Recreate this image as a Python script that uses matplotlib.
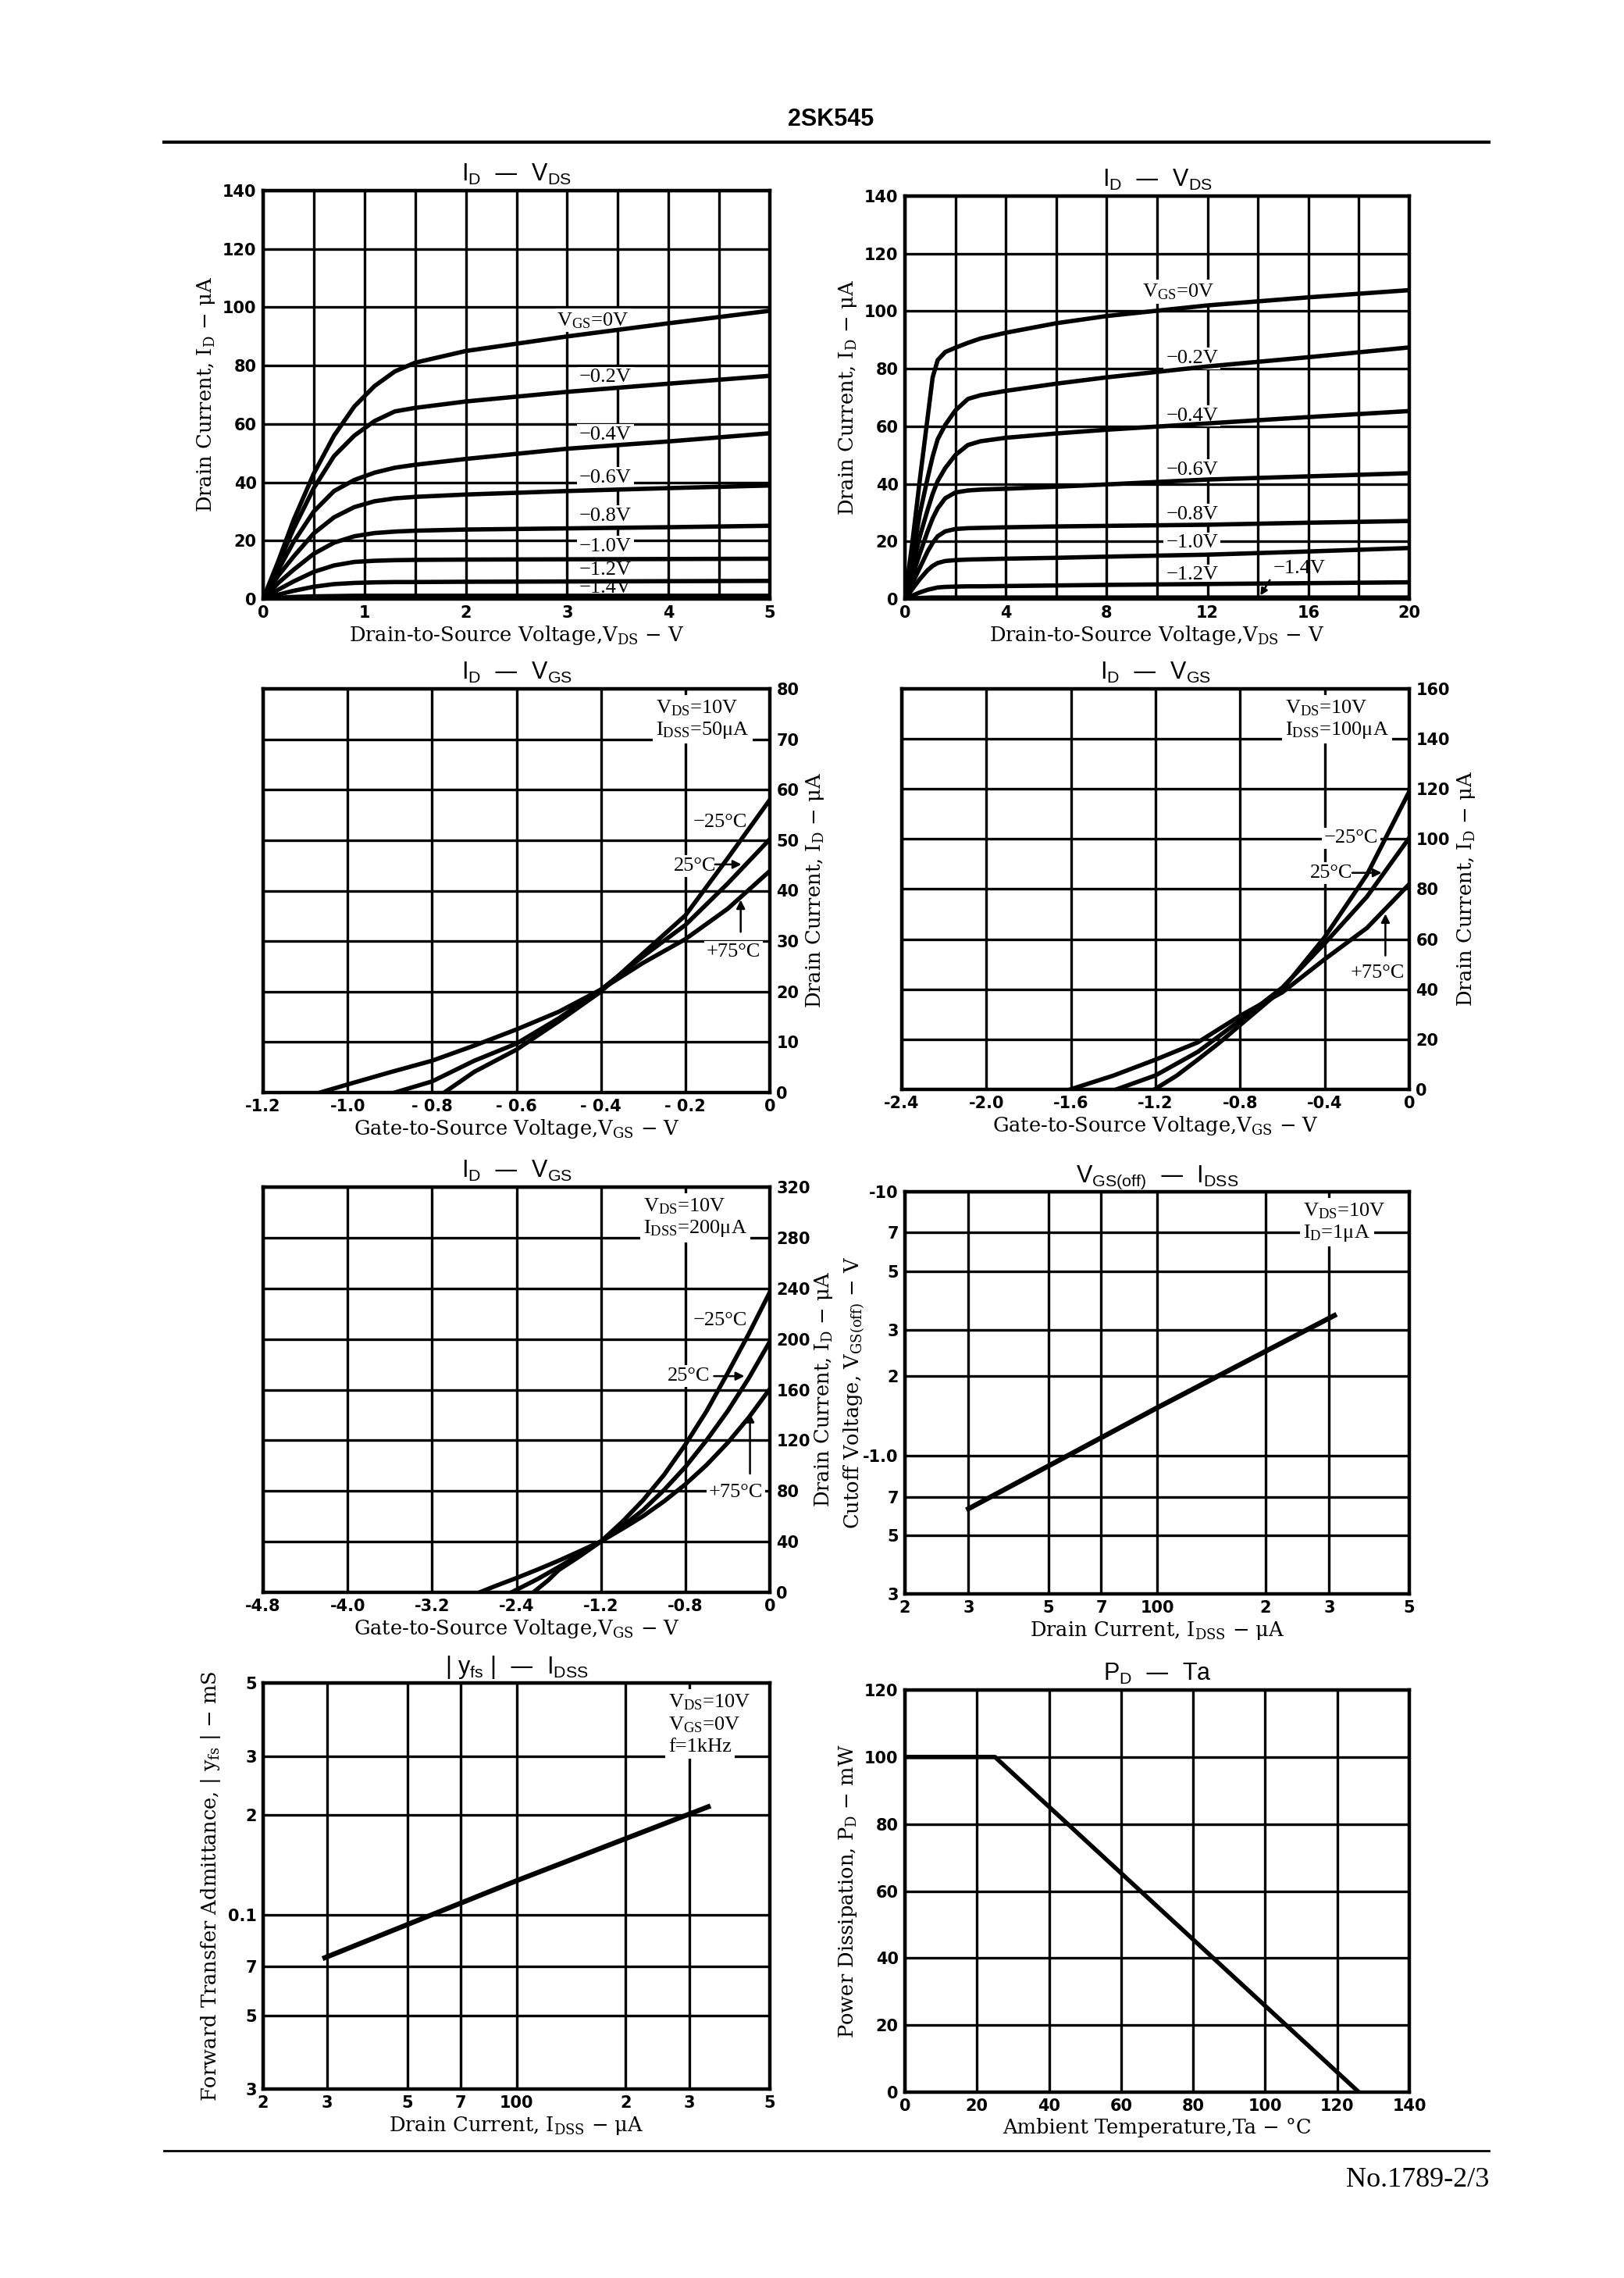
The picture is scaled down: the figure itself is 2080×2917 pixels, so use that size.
import matplotlib
matplotlib.use('Agg')
import matplotlib.pyplot as plt
from matplotlib.lines import Line2D

# ---------------- data ----------------
# I_D - V_DS (0..5 V)
vds_a = [0, 0.15, 0.3, 0.5, 0.7, 0.9, 1.1, 1.3, 1.5, 2, 3, 4, 5]
id_a = [
    [0, 13, 27, 43, 56, 66, 73, 78, 81, 85, 90, 94.5, 98.8],
    [0, 12, 24, 38, 49, 56, 61, 64.3, 65.5, 67.7, 71, 73.8, 76.5],
    [0, 10, 19.5, 30, 37, 40.8, 43.3, 45, 46, 48, 51.5, 54, 56.8],
    [0, 8, 14.5, 22.5, 28, 31.5, 33.5, 34.5, 35, 35.8, 37, 38, 38.9],
    [0, 5.5, 10, 15.5, 19.3, 21.5, 22.6, 23.1, 23.4, 23.8, 24.2, 24.6, 25.1],
    [0, 3.2, 6, 9.3, 11.5, 12.7, 13.1, 13.3, 13.4, 13.5, 13.6, 13.7, 13.8],
    [0, 1.5, 2.8, 4.2, 5.1, 5.5, 5.7, 5.8, 5.8, 5.9, 6, 6.1, 6.2],
    [0, 0.4, 0.7, 0.9, 1.0, 1.1, 1.1, 1.1, 1.1, 1.1, 1.1, 1.1, 1.1],
]
vgs_a = [r'$\mathregular{V_{GS}}$=0V', '−0.2V', '−0.4V', '−0.6V',
         '−0.8V', '−1.0V', '−1.2V', '−1.4V']

# I_D - V_DS (0..20 V)
vds_b = [0, 0.3, 0.6, 0.9, 1.1, 1.3, 1.6, 2, 2.5, 3, 4, 6, 8, 12, 16, 20]
id_b = [
    [0, 20, 42, 63, 77, 83, 85.8, 87.3, 89, 90.5, 92.5, 95.8, 98.3, 102, 104.8, 107.3],
    [0, 15, 30, 42, 49.5, 55.5, 60.5, 65.5, 69.5, 70.8, 72.3, 74.8, 77, 80.8, 84, 87.4],
    [0, 11, 22, 31, 36.5, 41, 45.5, 50, 53.5, 54.8, 56, 57.5, 58.8, 61, 63.2, 65.3],
    [0, 8, 16, 23.5, 28, 31.5, 35, 37, 37.7, 38, 38.3, 39, 39.8, 41.5, 42.6, 43.7],
    [0, 5.5, 11, 16.5, 19.5, 21.8, 23.5, 24.3, 24.6, 24.7, 24.9, 25.2, 25.4, 25.8, 26.5, 27.1],
    [0, 3.5, 7, 10, 11.5, 12.5, 13.2, 13.5, 13.7, 13.8, 14, 14.3, 14.7, 15.4, 16.5, 17.7],
    [0, 1.2, 2.3, 3.2, 3.6, 4, 4.2, 4.3, 4.4, 4.4, 4.5, 4.7, 4.9, 5.2, 5.5, 5.8],
    [0, 0.2, 0.35, 0.45, 0.5, 0.5, 0.5, 0.5, 0.5, 0.5, 0.5, 0.5, 0.5, 0.5, 0.5, 0.5],
]
vgs_b = [r'$\mathregular{V_{GS}}$=0V', '−0.2V', '−0.4V', '−0.6V',
         '−0.8V', '−1.0V', '−1.2V']

# I_D - V_GS, IDSS = 50 uA   (-25C, 25C, 75C)
vgs_c = [[-0.771, -0.7, -0.6, -0.5, -0.4, -0.3, -0.2, -0.1, 0],
         [-0.888, -0.8, -0.7, -0.6, -0.5, -0.4, -0.3, -0.2, -0.1, 0],
         [-1.065, -1.0, -0.9, -0.8, -0.7, -0.6, -0.5, -0.4, -0.3, -0.2, -0.1, 0]]
id_c = [[0, 4.1, 8.5, 14.1, 20, 27.6, 35.1, 46.4, 58],
        [0, 2.2, 6.3, 9.7, 14.7, 20.4, 27, 33.2, 41.4, 50.2],
        [0, 1.6, 4, 6.3, 9.3, 12.5, 16, 20.4, 25.7, 30.4, 36.4, 43.9]]

# I_D - V_GS, IDSS = 100 uA
vgs_d = [[-1.205, -1.1, -1.0, -0.9, -0.8, -0.6, -0.4, -0.2, 0],
         [-1.385, -1.2, -1.0, -0.8, -0.6, -0.4, -0.2, 0],
         [-1.603, -1.4, -1.2, -1.0, -0.8, -0.6, -0.4, -0.2, 0]]
id_d = [[0, 5.5, 11.9, 18.5, 25.7, 40, 60.8, 85.8, 119],
        [0, 5.6, 15, 27.6, 40.7, 58.3, 77, 100.5],
        [0, 5.5, 11.9, 18.8, 29.4, 38.8, 52, 64.5, 82]]

# I_D - V_GS, IDSS = 200 uA
vgs_e = [[-2.24, -2.1, -2.0, -1.8, -1.6, -1.4, -1.2, -1.0, -0.8, -0.6, -0.4, -0.2, 0],
         [-2.447, -2.2, -2.0, -1.8, -1.6, -1.4, -1.2, -1.0, -0.8, -0.6, -0.4, -0.2, 0],
         [-2.748, -2.6, -2.4, -2.2, -2.0, -1.8, -1.6, -1.4, -1.2, -1.0, -0.8, -0.6, -0.4, -0.2, 0]]
id_e = [[0, 9.5, 17.6, 28.5, 40.2, 55.5, 72.8, 93, 116.7, 143, 173, 204, 237],
        [0, 10.5, 20, 30, 40.2, 52, 65, 81, 99, 120, 143, 169, 198],
        [0, 5, 11.3, 18, 25, 32.5, 40.2, 50, 60.2, 72, 85.3, 100.5, 118, 138, 160.6]]

# VGS(off) - IDSS (magnitudes)
idss_f = [30, 100, 310]
voff_f = [0.63, 1.52, 3.4]

# |yfs| - IDSS
idss_g = [29.6, 100, 338]
yfs_g = [0.0745, 0.127, 0.212]

# PD - Ta
ta_h = [0, 25, 126]
pd_h = [100, 100, 0]

log_ticks = [20, 30, 50, 70, 100, 200, 300, 500]
log_labels = ['2', '3', '5', '7', '100', '2', '3', '5']

# ---------------- drawing ----------------
W, H = 2080, 2917
fig = plt.figure(figsize=(W / 100, H / 100), dpi=100)

SERIF = 'DejaVu Serif'
NOTE = 'Liberation Serif'
SANS = 'Liberation Sans'
TICK = 'DejaVu Sans'
LW = 4.0


def add_ax(x0, y0, x1, y1):
    return fig.add_axes([x0 / W, 1 - y1 / H, (x1 - x0) / W, (y1 - y0) / H])


def setup(ax, xt, xl, yt, yl, title, xlabel, ylabel, right=False, ypad=5):
    ax.set_xticks(xt)
    ax.set_xticklabels(xl, fontfamily=TICK, fontweight='bold', fontsize=15)
    ax.set_yticks(yt)
    ax.set_yticklabels(yl, fontfamily=TICK, fontweight='bold', fontsize=15)
    ax.minorticks_off()
    ax.tick_params(length=0, pad=6)
    ax.grid(True, color='black', lw=2.4)
    ax.set_axisbelow(True)
    for s in ax.spines.values():
        s.set_linewidth(3.2)
        s.set_zorder(6)
    if right:
        ax.yaxis.tick_right()
        ax.yaxis.set_label_position('right')
    ax.set_title(title, fontfamily=SANS, fontsize=22, pad=9)
    ax.set_xlabel(xlabel, fontfamily=SERIF, fontsize=18.5, labelpad=3)
    ax.set_ylabel(ylabel, fontfamily=SERIF, fontsize=18.5, labelpad=ypad)


def note(ax, x, y, s, size=19, ha='left'):
    ax.text(x, y, s, fontfamily=NOTE, fontsize=size, ha=ha, va='center', zorder=3,
            bbox=dict(facecolor='white', edgecolor='none', pad=2))


def cond(ax, lines, x):
    for i, s in enumerate(lines):
        ax.text(x, 0.952 - i * 0.055, s, transform=ax.transAxes, fontfamily=NOTE,
                fontsize=19, ha='left', va='center', zorder=3,
                bbox=dict(facecolor='white', edgecolor='none', pad=3))


def arrow(ax, start, end):
    ax.annotate('', xy=end, xytext=start, zorder=5,
                arrowprops=dict(arrowstyle='-|>', color='black', lw=1.8, mutation_scale=16))


id_lab = r'Drain Current, $\mathregular{I_D}$ − μA'
vgs_lab = r'Gate-to-Source Voltage,$\mathregular{V_{GS}}$ − V'
t_idvgs = r'$\mathregular{I_D}$  —  $\mathregular{V_{GS}}$'

# panel 1
ax = add_ax(337, 244, 986, 767)
ax.set_xlim(0, 5)
ax.set_ylim(0, 140)
setup(ax, [i * 0.5 for i in range(11)], ['0', '', '1', '', '2', '', '3', '', '4', '', '5'],
      range(0, 141, 20), [str(v) for v in range(0, 141, 20)],
      r'$\mathregular{I_D}$  —  $\mathregular{V_{DS}}$',
      r'Drain-to-Source Voltage,$\mathregular{V_{DS}}$ − V', id_lab)
for ys in id_a:
    ax.plot(vds_a, ys, color='black', lw=LW, zorder=4, solid_capstyle='round')
ypos_a = [95.5, 75.9, 56.2, 41.5, 28.4, 18.0, 9.8, 3.8]
for i, s in enumerate(vgs_a):
    note(ax, 2.9 if i == 0 else 3.12, ypos_a[i], s)

# panel 2
ax = add_ax(1159, 251, 1805, 767)
ax.set_xlim(0, 20)
ax.set_ylim(0, 140)
setup(ax, range(0, 21, 2), ['0', '', '4', '', '8', '', '12', '', '16', '', '20'],
      range(0, 141, 20), [str(v) for v in range(0, 141, 20)],
      r'$\mathregular{I_D}$  —  $\mathregular{V_{DS}}$',
      r'Drain-to-Source Voltage,$\mathregular{V_{DS}}$ − V', id_lab)
for ys in id_b:
    ax.plot(vds_b, ys, color='black', lw=LW, zorder=4, solid_capstyle='round')
ypos_b = [106.8, 83.6, 63.6, 44.8, 29.3, 19.4, 8.3]
for i, s in enumerate(vgs_b):
    note(ax, 9.4 if i == 0 else 10.35, ypos_b[i], s)
ax.annotate('−1.4V', xy=(14.05, 0.6), xytext=(14.6, 10.5), fontfamily=NOTE, fontsize=19,
            va='center', zorder=5,
            arrowprops=dict(arrowstyle='-|>', color='black', lw=1.8, mutation_scale=13,
                            relpos=(0.05, 0.4)))

# panel 3
ax = add_ax(337, 882, 986, 1399)
ax.set_xlim(-1.2, 0)
ax.set_ylim(0, 80)
setup(ax, [-1.2, -1.0, -0.8, -0.6, -0.4, -0.2, 0],
      ['-1.2', '-1.0', '- 0.8', '- 0.6', '- 0.4', '- 0.2', '0'],
      range(0, 81, 10), [str(v) for v in range(0, 81, 10)],
      t_idvgs, vgs_lab, id_lab, right=True)
for xs, ys in zip(vgs_c, id_c):
    ax.plot(xs, ys, color='black', lw=LW, zorder=4)
cond(ax, [r'$\mathregular{V_{DS}}$=10V', r'$\mathregular{I_{DSS}}$=50μA'], 0.775)
note(ax, -0.118, 53.6, '−25°C', ha='center')
note(ax, -0.178, 44.9, '25°C', ha='center')
arrow(ax, (-0.135, 45.2), (-0.062, 45.2))
note(ax, -0.086, 27.9, '+75°C', ha='center')
arrow(ax, (-0.069, 31.4), (-0.069, 38.6))

# panel 4
ax = add_ax(1155, 882, 1805, 1395)
ax.set_xlim(-2.4, 0)
ax.set_ylim(0, 160)
setup(ax, [-2.4, -2.0, -1.6, -1.2, -0.8, -0.4, 0],
      ['-2.4', '-2.0', '-1.6', '-1.2', '-0.8', '-0.4', '0'],
      range(0, 161, 20), [str(v) for v in range(0, 161, 20)],
      t_idvgs, vgs_lab, id_lab, right=True)
for xs, ys in zip(vgs_d, id_d):
    ax.plot(xs, ys, color='black', lw=LW, zorder=4)
cond(ax, [r'$\mathregular{V_{DS}}$=10V', r'$\mathregular{I_{DSS}}$=100μA'], 0.755)
note(ax, -0.275, 100.3, '−25°C', ha='center')
note(ax, -0.37, 86.5, '25°C', ha='center')
arrow(ax, (-0.28, 86.5), (-0.12, 86.5))
note(ax, -0.151, 46.4, '+75°C', ha='center')
arrow(ax, (-0.113, 52.6), (-0.113, 71))

# panel 5
ax = add_ax(337, 1520, 986, 2039)
ax.set_xlim(-4.8, 0)
ax.set_ylim(0, 320)
setup(ax, [-4.8, -4.0, -3.2, -2.4, -1.6, -0.8, 0],
      ['-4.8', '-4.0', '-3.2', '-2.4', '-1.2', '-0.8', '0'],
      range(0, 321, 40), [str(v) for v in range(0, 321, 40)],
      t_idvgs, vgs_lab, id_lab, right=True, ypad=2)
for xs, ys in zip(vgs_e, id_e):
    ax.plot(xs, ys, color='black', lw=LW, zorder=4)
cond(ax, [r'$\mathregular{V_{DS}}$=10V', r'$\mathregular{I_{DSS}}$=200μA'], 0.75)
note(ax, -0.47, 214.6, '−25°C', ha='center')
note(ax, -0.77, 170.7, '25°C', ha='center')
arrow(ax, (-0.55, 170.7), (-0.22, 170.7))
note(ax, -0.32, 79, '+75°C', ha='center')
arrow(ax, (-0.188, 92), (-0.188, 143))

# panel 6
ax = add_ax(1159, 1526, 1805, 2041)
ax.set_xscale('log')
ax.set_yscale('log')
ax.set_xlim(20, 500)
ax.set_ylim(0.3, 10)
setup(ax, log_ticks, log_labels,
      [0.3, 0.5, 0.7, 1, 2, 3, 5, 7, 10], ['3', '5', '7', '-1.0', '2', '3', '5', '7', '-10'],
      r'$\mathregular{V_{GS(off)}}$  —  $\mathregular{I_{DSS}}$',
      r'Drain Current, $\mathregular{I_{DSS}}$ − μA',
      r'Cutoff Voltage, $\mathregular{V_{GS(off)}}$ − V', ypad=-3)
ax.plot(idss_f, voff_f, color='black', lw=LW + 0.6, zorder=4)
cond(ax, [r'$\mathregular{V_{DS}}$=10V', r'$\mathregular{I_D}$=1μA'], 0.79)

# panel 7
ax = add_ax(337, 2155, 986, 2675)
ax.set_xscale('log')
ax.set_yscale('log')
ax.set_xlim(20, 500)
ax.set_ylim(0.03, 0.5)
setup(ax, log_ticks, log_labels,
      [0.03, 0.05, 0.07, 0.1, 0.2, 0.3, 0.5], ['3', '5', '7', '0.1', '2', '3', '5'],
      r'| $\mathregular{y_{fs}}$ |  —  $\mathregular{I_{DSS}}$',
      r'Drain Current, $\mathregular{I_{DSS}}$ − μA',
      r'Forward Transfer Admittance, | $\mathregular{y_{fs}}$ | − mS')
ax.plot(idss_g, yfs_g, color='black', lw=LW + 0.6, zorder=4)
cond(ax, [r'$\mathregular{V_{DS}}$=10V', r'$\mathregular{V_{GS}}$=0V', 'f=1kHz'], 0.80)

# panel 8
ax = add_ax(1159, 2164, 1805, 2679)
ax.set_xlim(0, 140)
ax.set_ylim(0, 120)
setup(ax, range(0, 141, 20), [str(v) for v in range(0, 141, 20)],
      range(0, 121, 20), [str(v) for v in range(0, 121, 20)],
      r'$\mathregular{P_D}$  —  Ta', 'Ambient Temperature,Ta − °C',
      r'Power Dissipation, $\mathregular{P_D}$ − mW')
ax.plot(ta_h, pd_h, color='black', lw=LW, zorder=4)

# page header / footer
fig.text(1064 / W, 1 - 153 / H, '2SK545', ha='center', va='center', fontsize=22,
         fontweight='bold', fontfamily=SANS)
fig.add_artist(Line2D([210 / W, 1907 / W], [1 - 182 / H] * 2, color='black', lw=3))
fig.add_artist(Line2D([210 / W, 1907 / W], [1 - 2754 / H] * 2, color='black', lw=2))
fig.text(1907 / W, 1 - 2791 / H, 'No.1789-2/3', ha='right', va='center', fontsize=26,
         fontfamily=NOTE)

fig.savefig('out.png', dpi=100, facecolor='white')
